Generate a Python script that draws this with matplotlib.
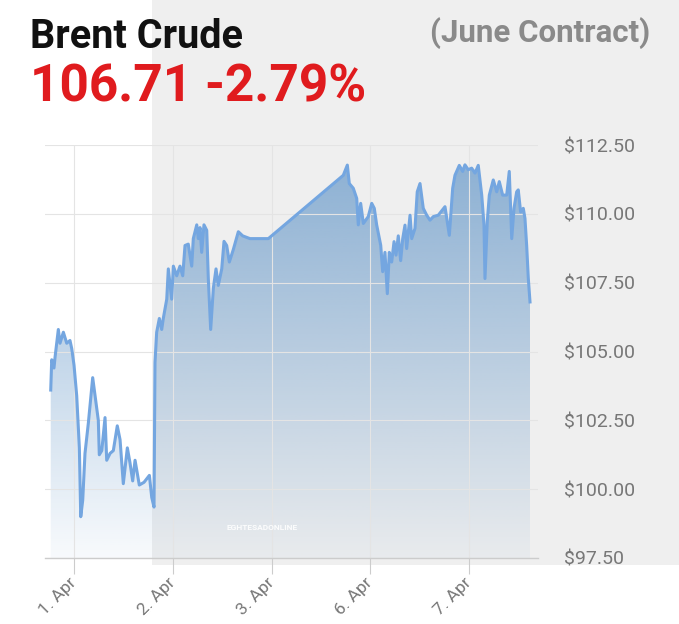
import numpy as np
import matplotlib
matplotlib.use("Agg")
import matplotlib.pyplot as plt
from matplotlib.patches import Rectangle

# trading-day position (0 = 1. Apr) and price
days = [-0.236, -0.226, -0.203, -0.192, -0.159, -0.142, -0.108, -0.074, -0.041, -0.023,
        0.000, 0.027, 0.054, 0.068, 0.088, 0.111, 0.145, 0.189, 0.213, 0.246,
        0.256, 0.281, 0.314, 0.331, 0.365, 0.398, 0.438, 0.466, 0.499, 0.540,
        0.567, 0.594, 0.618, 0.661, 0.709, 0.763, 0.787, 0.810, 0.820, 0.837,
        0.864, 0.888, 0.904, 0.939, 0.955, 0.989, 1.006, 1.040, 1.073, 1.101,
        1.124, 1.157, 1.192, 1.208, 1.243, 1.259, 1.276, 1.293, 1.316, 1.344,
        1.360, 1.384, 1.411, 1.438, 1.461, 1.496, 1.519, 1.546, 1.573, 1.613,
        1.664, 1.708, 1.782, 1.968, 2.727, 2.768, 2.788, 2.828, 2.863, 2.879,
        2.903, 2.930, 2.980, 3.015, 3.041, 3.065, 3.106, 3.126, 3.149, 3.173,
        3.193, 3.217, 3.241, 3.261, 3.284, 3.308, 3.329, 3.352, 3.369, 3.403,
        3.420, 3.453, 3.476, 3.504, 3.537, 3.572, 3.605, 3.639, 3.689, 3.757,
        3.801, 3.835, 3.858, 3.902, 3.936, 3.959, 3.993, 4.027, 4.061, 4.094,
        4.129, 4.152, 4.162, 4.185, 4.206, 4.246, 4.281, 4.307, 4.341, 4.382,
        4.408, 4.433, 4.456, 4.483, 4.499, 4.523, 4.550, 4.567, 4.584, 4.601,
        4.618]
prices = [103.6, 104.7, 104.4, 104.8, 105.8, 105.3, 105.7, 105.3, 105.4, 105.1,
          104.5, 103.4, 101.5, 99.0, 99.6, 101.3, 102.4, 104.05, 103.4, 102.5,
          101.25, 101.4, 102.6, 101.05, 101.3, 101.4, 102.3, 101.8, 100.2, 101.5,
          100.95, 100.3, 101.05, 100.15, 100.25, 100.5, 99.7, 99.35, 104.6, 105.7,
          106.2, 105.8, 106.2, 106.9, 108.0, 106.9, 108.1, 107.75, 108.1, 107.75,
          108.85, 108.9, 108.1, 109.1, 109.6, 109.1, 109.5, 108.6, 109.6, 109.4,
          107.65, 105.8, 107.3, 108.0, 107.4, 108.0, 109.0, 108.85, 108.25, 108.7,
          109.35, 109.2, 109.1, 109.1, 111.4, 111.77, 111.1, 110.93, 110.56, 109.6,
          110.38, 109.65, 109.9, 110.38, 110.2, 109.6, 108.86, 107.9, 108.6, 107.1,
          108.6, 108.25, 108.99, 108.5, 109.2, 108.3, 109.1, 109.59, 108.74, 109.95,
          109.1, 109.47, 110.8, 111.1, 110.2, 109.95, 109.77, 109.9, 109.95, 110.26,
          109.22, 110.93, 111.4, 111.76, 111.54, 111.78, 111.6, 111.66, 111.48, 111.76,
          110.68, 109.6, 107.65, 109.71, 110.68, 111.23, 110.8, 111.17, 110.68, 110.68,
          111.54, 109.1, 110.2, 110.8, 110.87, 110.07, 110.2, 109.83, 108.86, 107.65,
          106.8]

tick_pos = [0, 1, 2, 3, 4]
tick_labels = ["1. Apr", "2. Apr", "3. Apr", "6. Apr", "7. Apr"]
y_ticks = [97.5, 100.0, 102.5, 105.0, 107.5, 110.0, 112.5]

plt.rcParams['font.family'] = ['Roboto', 'DejaVu Sans']

fig = plt.figure(figsize=(6.79, 6.24), dpi=100)
fig.patch.set_facecolor('white')
# grey screenshot panel behind the right part
fig.add_artist(Rectangle((152 / 679, 1 - 565 / 624), 1, 565 / 624,
                         transform=fig.transFigure, facecolor='#efefef',
                         edgecolor='none', zorder=-5))

ax = fig.add_axes([45 / 679, 1 - 558 / 624, 493 / 679, 413 / 624])
ax.patch.set_alpha(0)

xmin, xmax = -0.294, 4.699
ymin, ymax = 97.5, 112.5

# gradient area under the line
grad = np.zeros((256, 1, 4))
grad[:, 0, 0] = 0x6c / 255
grad[:, 0, 1] = 0x9c / 255
grad[:, 0, 2] = 0xcb / 255
grad[:, 0, 3] = np.linspace(0.78, 0.05, 256)
im = ax.imshow(grad, extent=[xmin, xmax, ymin, ymax], origin='upper',
               aspect='auto', zorder=1)
poly = ax.fill_between(days, prices, ymin, color='none')
clip = poly.get_paths()[0]
im.set_clip_path(clip, transform=ax.transData)

ax.plot(days, prices, color='#74a6e0', lw=2.2, zorder=3, solid_joinstyle='round')

ax.set_xlim(xmin, xmax)
ax.set_ylim(ymin, ymax)
ax.set_yticks(y_ticks)
ax.set_yticklabels(['$%.2f' % v for v in y_ticks])
ax.yaxis.tick_right()
ax.tick_params(axis='y', length=0, pad=19, labelsize=14, labelcolor='#777777')
ax.set_xticks(tick_pos)
ax.set_xticklabels(tick_labels, rotation=45, ha='right', rotation_mode='anchor')
ax.tick_params(axis='x', length=11.5, width=0.8, color='#cccccc', pad=5,
               labelsize=12.5, labelcolor='#777777')
for lbl in ax.get_xticklabels():
    lbl.set_va('center')

ax.grid(True, color='#e4e4e4', lw=0.8, zorder=0)
for s in ['top', 'right', 'left']:
    ax.spines[s].set_visible(False)
ax.spines['bottom'].set_color('#cccccc')
ax.spines['bottom'].set_linewidth(1.0)

fig.text(30 / 679, 1 - 48 / 624, "Brent Crude", fontsize=28.5, fontweight='bold',
         color='#111111', ha='left', va='baseline')
fig.text(30 / 679, 1 - 102 / 624, "106.71 -2.79%", fontsize=37, fontweight='bold',
         color='#e01b1e', ha='left', va='baseline')
fig.text(650 / 679, 1 - 42 / 624, "(June Contract)", fontsize=22.5, fontweight='bold',
         color='#8a8a8a', ha='right', va='baseline')

# watermark
fig.text(262 / 679, 1 - 527 / 624, "EGHTESADONLINE", fontsize=6, fontweight='bold',
         color='white', ha='center', va='center', alpha=0.9)

fig.savefig('out.png', dpi=100)
